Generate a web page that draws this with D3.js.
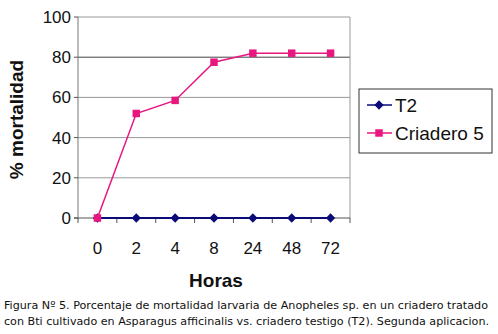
<!DOCTYPE html>
<html>
<head>
<meta charset="utf-8">
<script src="https://cdnjs.cloudflare.com/ajax/libs/d3/7.8.5/d3.min.js"></script>
<style>
  body { margin: 0; background: #fff; }
  svg { display: block; }
</style>
</head>
<body>
<div id="vis"></div>
<script>
// Data
const horas = ["0", "2", "4", "8", "24", "48", "72"];
const t2 = [0, 0, 0, 0, 0, 0, 0];
const criadero5 = [0, 52, 58.5, 77.5, 82, 82, 82];
const yTicks = [0, 20, 40, 60, 80, 100];
const caption = [
  "Figura Nº 5. Porcentaje de mortalidad larvaria de Anopheles sp. en un criadero tratado",
  "con Bti cultivado en Asparagus afficinalis vs. criadero testigo (T2). Segunda aplicacion."
];

const width = 498, height = 334;
const margin = { top: 17, right: 148, bottom: 116, left: 78 };

const svg = d3.select("#vis").append("svg")
  .attr("width", width)
  .attr("height", height);

const x = d3.scaleBand()
  .domain(horas)
  .range([margin.left, width - margin.right]);

const y = d3.scaleLinear()
  .domain([0, 100])
  .range([height - margin.bottom, margin.top]);

// grid lines
svg.append("g")
  .selectAll("line")
  .data(yTicks.filter(d => d > 0))
  .join("line")
  .attr("x1", margin.left)
  .attr("x2", width - margin.right)
  .attr("y1", d => y(d))
  .attr("y2", d => y(d))
  .attr("stroke", d => d === 80 ? "#444" : "#999")
  .attr("stroke-width", 1);

// plot frame (right side) and y axis
svg.append("line")
  .attr("x1", width - margin.right).attr("x2", width - margin.right)
  .attr("y1", margin.top).attr("y2", y(0))
  .attr("stroke", "#999");

svg.append("line")
  .attr("x1", margin.left).attr("x2", margin.left)
  .attr("y1", margin.top).attr("y2", y(0))
  .attr("stroke", "#777");

// y ticks and labels
svg.append("g")
  .selectAll("line")
  .data(yTicks)
  .join("line")
  .attr("x1", margin.left - 4)
  .attr("x2", margin.left)
  .attr("y1", d => y(d))
  .attr("y2", d => y(d))
  .attr("stroke", "#555");

svg.append("g")
  .selectAll("text")
  .data(yTicks)
  .join("text")
  .attr("x", margin.left - 7)
  .attr("y", d => y(d) + 6)
  .attr("text-anchor", "end")
  .attr("font-family", "Liberation Sans, Arial, sans-serif")
  .attr("font-size", "17px")
  .attr("fill", "#111")
  .text(d => d);

// x axis line with ticks between categories
svg.append("line")
  .attr("x1", margin.left - 4).attr("x2", width - margin.right)
  .attr("y1", y(0)).attr("y2", y(0))
  .attr("stroke", "#555");

const boundaries = horas.map(h => x(h)).concat([x(horas[horas.length - 1]) + x.bandwidth()]);
svg.append("g")
  .selectAll("line")
  .data(boundaries)
  .join("line")
  .attr("x1", d => d).attr("x2", d => d)
  .attr("y1", y(0)).attr("y2", y(0) + 5)
  .attr("stroke", "#555");

svg.append("g")
  .selectAll("text")
  .data(horas)
  .join("text")
  .attr("x", d => x(d) + x.bandwidth() / 2)
  .attr("y", y(0) + 36)
  .attr("text-anchor", "middle")
  .attr("font-family", "Liberation Sans, Arial, sans-serif")
  .attr("font-size", "17px")
  .attr("fill", "#111")
  .text(d => d);

// axis titles
svg.append("text")
  .attr("x", x(horas[0]) + (x.range()[1] - x.range()[0]) / 2 + 2)
  .attr("y", 287)
  .attr("text-anchor", "middle")
  .attr("font-family", "Liberation Sans, Arial, sans-serif")
  .attr("font-size", "19px")
  .attr("font-weight", "bold")
  .attr("fill", "#111")
  .text("Horas");

svg.append("text")
  .attr("transform", `translate(23,${(margin.top + y(0)) / 2 + 2}) rotate(-90)`)
  .attr("text-anchor", "middle")
  .attr("font-family", "Liberation Sans, Arial, sans-serif")
  .attr("font-size", "19px")
  .attr("font-weight", "bold")
  .attr("fill", "#111")
  .text("% mortalidad");

// series
const series = [
  { name: "T2", values: t2, color: "#0a0a78", shape: d3.symbolDiamond2, size: 55 },
  { name: "Criadero 5", values: criadero5, color: "#e8177f", shape: d3.symbolSquare, size: 56 }
];

const line = d3.line()
  .x((d, i) => x(horas[i]) + x.bandwidth() / 2)
  .y(d => y(d));

series.forEach(s => {
  svg.append("path")
    .datum(s.values)
    .attr("fill", "none")
    .attr("stroke", s.color)
    .attr("stroke-width", s.name === "T2" ? 2 : 1.5)
    .attr("d", line);

  svg.append("g")
    .selectAll("path")
    .data(s.values)
    .join("path")
    .attr("transform", (d, i) => `translate(${x(horas[i]) + x.bandwidth() / 2},${y(d)})`)
    .attr("d", d3.symbol().type(s.shape).size(s.size))
    .attr("fill", s.color);
});

// legend
const legendX = 359, legendY = 89;
svg.append("rect")
  .attr("x", legendX)
  .attr("y", legendY)
  .attr("width", 133)
  .attr("height", 64)
  .attr("fill", "#fff")
  .attr("stroke", "#333")
  .attr("stroke-width", 1);

series.forEach((s, i) => {
  const ly = legendY + 16 + i * 28;
  svg.append("line")
    .attr("x1", legendX + 8).attr("x2", legendX + 33)
    .attr("y1", ly).attr("y2", ly)
    .attr("stroke", s.color)
    .attr("stroke-width", 1.5);
  svg.append("path")
    .attr("transform", `translate(${legendX + 20},${ly})`)
    .attr("d", d3.symbol().type(s.shape).size(s.size))
    .attr("fill", s.color);
  svg.append("text")
    .attr("x", legendX + 36)
    .attr("y", ly + 7)
    .attr("font-family", "Liberation Sans, Arial, sans-serif")
    .attr("font-size", "19px")
    .attr("fill", "#111")
    .text(s.name);
});

// caption
svg.append("g")
  .selectAll("text")
  .data(caption)
  .join("text")
  .attr("x", 4)
  .attr("y", (d, i) => 309 + i * 16)
  .attr("font-family", "DejaVu Sans, Verdana, sans-serif")
  .attr("font-size", "11px")
  .attr("fill", "#111")
  .attr("textLength", (d, i) => i === 0 ? 484 : 485)
  .attr("lengthAdjust", "spacingAndGlyphs")
  .text(d => d);
</script>
</body>
</html>
